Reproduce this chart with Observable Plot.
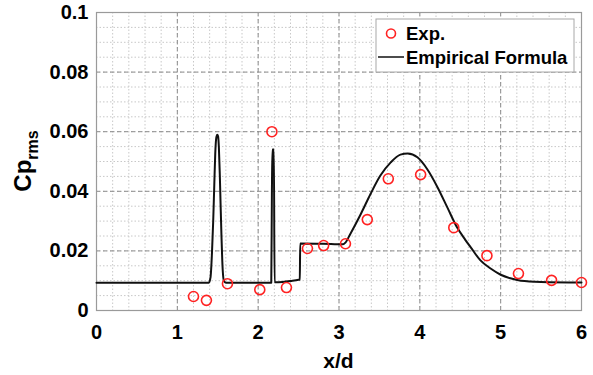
<!DOCTYPE html>
<html>
<head>
<meta charset="utf-8">
<script src="https://cdn.jsdelivr.net/npm/d3@7"></script>
<script src="https://cdn.jsdelivr.net/npm/@observablehq/plot@0.6"></script>
<style>
  html, body { margin: 0; padding: 0; background: #fff; }
</style>
</head>
<body>
<div id="chart"></div>
<script>
// Empirical formula curve
const lineX = [0, 1.39, 1.411, 1.428, 1.444, 1.457, 1.469, 1.482, 1.494, 1.504, 1.514, 1.525, 1.535, 1.546, 1.556, 1.575, 1.60,
  2.162, 2.170, 2.176, 2.194, 2.203, 2.30, 2.40, 2.50, 2.515, 2.52, 2.80, 3.05, 3.08, 3.14, 3.27, 3.39, 3.51, 3.64, 3.76, 3.85,
  3.97, 4.09, 4.22, 4.34, 4.46, 4.56, 4.63, 4.75, 4.88, 5.00, 5.12, 5.25, 5.50, 6.00];
const lineY = [0.0093, 0.0093, 0.0112, 0.019, 0.0302, 0.042, 0.0526, 0.0580, 0.0590, 0.0585, 0.0547, 0.046, 0.0358, 0.025, 0.0167, 0.0101, 0.0093,
  0.0093, 0.040, 0.0540, 0.0540, 0.0095, 0.0096, 0.0099, 0.0103, 0.0104, 0.0225, 0.0224, 0.0222, 0.0228, 0.0257, 0.0324, 0.0391, 0.0452, 0.0497, 0.0523, 0.0527,
  0.0514, 0.0475, 0.0413, 0.0346, 0.0279, 0.0238, 0.0212, 0.0168, 0.0140, 0.0120, 0.0108, 0.0100, 0.0096, 0.0094];

// Experimental points
const expX = [1.2, 1.36, 1.62, 2.02, 2.17, 2.35, 2.61, 2.81, 3.08, 3.35, 3.61, 4.01, 4.42, 4.83, 5.22, 5.63, 6.0];
const expY = [0.0047, 0.0034, 0.009, 0.007, 0.060, 0.0077, 0.0208, 0.0218, 0.0224, 0.0305, 0.0442, 0.0456, 0.0278, 0.0184, 0.0124, 0.0101, 0.0094];

// Ticks
const xTicks = [0, 1, 2, 3, 4, 5, 6];
const yTicks = [0, 0.02, 0.04, 0.06, 0.08, 0.1];
const xMinor = d3.range(0, 6.001, 0.2);
const yMinor = d3.range(0, 0.1001, 0.005);

const lineData = lineX.map((x, i) => ({x, y: lineY[i]}));
const expData = expX.map((x, i) => ({x, y: expY[i]}));

const font = "'Liberation Sans', Arial, Helvetica, sans-serif";

const plot = Plot.plot({
  width: 593,
  height: 375,
  marginLeft: 96,
  marginRight: 12,
  marginTop: 12,
  marginBottom: 65,
  style: {fontFamily: font, fontSize: "20px", fontWeight: "bold", background: "#fff", color: "#000"},
  x: {domain: [0, 6]},
  y: {domain: [0, 0.1]},
  marks: [
    Plot.gridX(xMinor, {stroke: "#c8c8c8", strokeOpacity: 1, strokeDasharray: "1.5,2"}),
    Plot.gridY(yMinor, {stroke: "#c8c8c8", strokeOpacity: 1, strokeDasharray: "1.5,2"}),
    Plot.gridX(xTicks, {stroke: "#8c8c8c", strokeOpacity: 1, strokeDasharray: "4,3"}),
    Plot.gridY(yTicks, {stroke: "#8c8c8c", strokeOpacity: 1, strokeDasharray: "4,3"}),
    Plot.frame({stroke: "#9a9a9a", strokeWidth: 1.2}),
    Plot.axisX({ticks: xTicks, tickSize: 0, tickPadding: 14, label: null, fontSize: 20, fontWeight: "bold",
      tickFormat: d => String(d)}),
    Plot.axisY({ticks: yTicks, tickSize: 0, tickPadding: 8, label: null, fontSize: 20, fontWeight: "bold",
      tickFormat: d => String(+d.toFixed(2))}),
    Plot.line(lineData, {x: "x", y: "y", stroke: "#111", strokeWidth: 2, curve: "monotone-x"}),
    Plot.dot(expData, {x: "x", y: "y", r: 5, stroke: "#ff2222", strokeWidth: 1.6, fill: "none"})
  ]
});

document.getElementById("chart").appendChild(plot);

const svg = d3.select(plot);

// Axis labels
svg.append("text")
  .attr("x", 338.5).attr("y", 368)
  .attr("text-anchor", "middle")
  .attr("font-family", font).attr("font-weight", "bold").attr("font-size", 21)
  .attr("fill", "#000")
  .text("x/d");

const yl = svg.append("text")
  .attr("transform", "translate(31,161) rotate(-90)")
  .attr("text-anchor", "middle")
  .attr("font-family", font).attr("font-weight", "bold").attr("font-size", 24)
  .attr("fill", "#000");
yl.append("tspan").text("Cp");
yl.append("tspan").attr("font-size", 16).attr("dy", 7).text("rms");

// Legend
const lg = svg.append("g").attr("text-anchor", "start");
lg.append("rect").attr("x", 376).attr("y", 19).attr("width", 198).attr("height", 53)
  .attr("fill", "#fff").attr("stroke", "#a8a8a8").attr("stroke-width", 1);
lg.append("circle").attr("cx", 391).attr("cy", 33.5).attr("r", 4.5)
  .attr("fill", "none").attr("stroke", "#ff2222").attr("stroke-width", 1.6);
lg.append("text").attr("x", 406).attr("y", 40).attr("text-anchor", "start")
  .attr("font-family", font).attr("font-weight", "bold")
  .attr("font-size", 18.5).attr("fill", "#000").text("Exp.");
lg.append("line").attr("x1", 378).attr("x2", 404).attr("y1", 57).attr("y2", 57)
  .attr("stroke", "#111").attr("stroke-width", 1.5);
lg.append("text").attr("x", 406).attr("y", 64).attr("text-anchor", "start")
  .attr("font-family", font).attr("font-weight", "bold")
  .attr("font-size", 18.5).attr("fill", "#000").text("Empirical Formula");
</script>
</body>
</html>
